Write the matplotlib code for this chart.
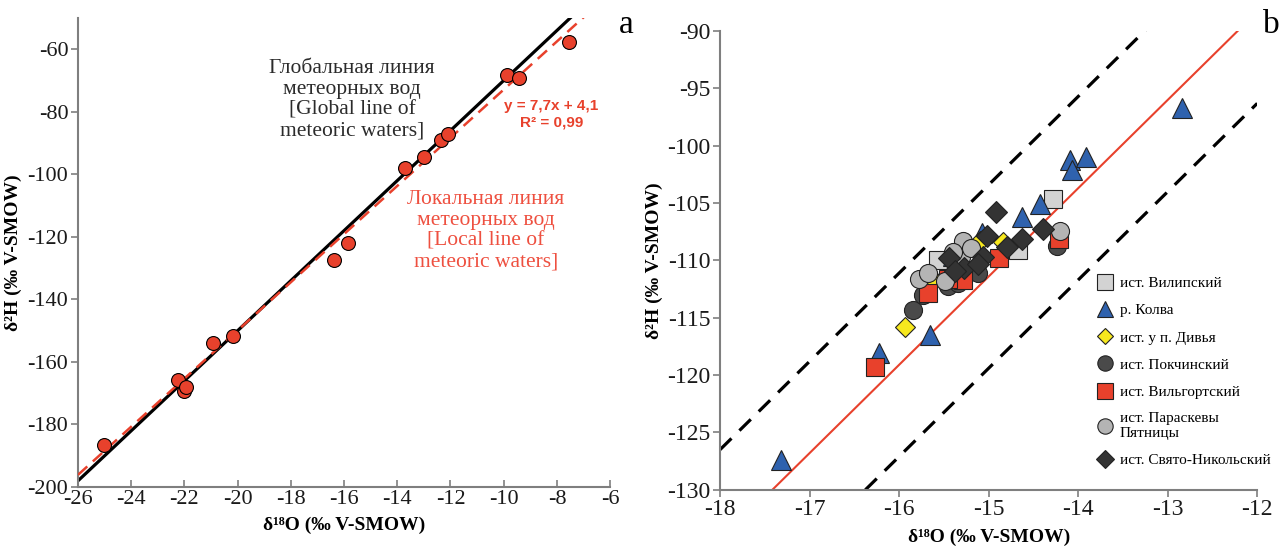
import matplotlib
matplotlib.use('Agg')
import matplotlib.pyplot as plt
import numpy as np

# --- panel a: isotope data (delta 18O, delta 2H) ---
a_o18 = [-25.03, -22.26, -22.02, -21.95, -20.92, -20.18, -16.37, -15.86,
         -13.70, -12.99, -12.36, -12.09, -9.88, -9.44, -7.54]
a_h2 = [-186.5, -165.7, -169.3, -168.0, -153.9, -151.6, -127.5, -122.1,
        -98.0, -94.4, -88.9, -87.0, -68.2, -69.2, -57.7]

# global (GMWL) and local (LMWL) meteoric water lines
gmwl_slope, gmwl_int = 8.0, 10.0
lmwl_slope, lmwl_int = 7.7, 4.1
band_offset = 8.0

# --- panel b: springs / river ---
vilip_x = [-14.28, -14.67, -15.57]
vilip_y = [-104.6, -109.1, -110.0]
kolva_x = [-17.32, -16.23, -15.65, -12.84, -14.09, -13.91, -14.07, -14.43, -14.63, -15.07, -15.40]
kolva_y = [-127.4, -118.1, -116.5, -96.7, -101.2, -101.0, -102.1, -105.1, -106.2, -107.6, -109.6]
divya_x = [-15.94, -15.10, -14.84, -15.62]
divya_y = [-115.8, -108.3, -108.4, -111.6]
pokcha_x = [-15.85, -15.73, -15.45, -15.34, -15.12, -14.24]
pokcha_y = [-114.3, -113.0, -112.2, -112.0, -111.1, -108.7]
vilg_x = [-16.27, -15.68, -15.29, -15.45, -14.88, -14.22]
vilg_y = [-119.3, -112.8, -111.7, -111.6, -109.8, -108.1]
paras_x = [-15.78, -15.68, -15.49, -15.29, -15.31, -15.20, -15.40, -14.20]
paras_y = [-111.6, -111.1, -111.8, -108.3, -109.7, -108.9, -109.3, -107.4]
nikol_x = [-14.92, -15.44, -15.28, -15.02, -15.06, -14.80, -14.63, -14.39, -15.12, -15.38]
nikol_y = [-105.8, -109.8, -110.7, -107.9, -109.7, -108.8, -108.1, -107.3, -110.3, -110.9]

legend_labels = ['ист. Вилипский', 'р. Колва', 'ист. у п. Дивья', 'ист. Покчинский',
                 'ист. Вильгортский', 'ист. Параскевы\nПятницы', 'ист. Свято-Никольский']

SERIF = ['Liberation Serif', 'DejaVu Serif']
plt.rcParams['font.family'] = SERIF
plt.rcParams['axes.unicode_minus'] = False

RED = '#e8412c'
SPINE = '#7f7f7f'

fig = plt.figure(figsize=(12.79, 5.46), dpi=100)
ax1 = fig.add_axes([0.061, 0.108, 0.416, 0.859])
ax2 = fig.add_axes([0.563, 0.103, 0.420, 0.840])


def style_axes(ax, size):
    for s in ['top', 'right']:
        ax.spines[s].set_visible(False)
    for s in ['left', 'bottom']:
        ax.spines[s].set_color(SPINE)
        ax.spines[s].set_linewidth(1.5)
    ax.tick_params(colors=SPINE, width=1.2, length=5, labelsize=size, labelcolor='#1a1a1a', pad=2)


# ---------------- panel a ----------------
xs = np.array([-26, -6])
ax1.plot(xs, gmwl_slope * xs + gmwl_int, color='black', lw=2.3, zorder=2)
ax1.plot(xs, lmwl_slope * xs + lmwl_int, color=RED, lw=1.8, dashes=(5, 3), zorder=3)
ax1.scatter(a_o18, a_h2, s=100, color=RED, edgecolor='black', linewidth=0.8, zorder=4)

ax1.set_xlim(-26, -6)
ax1.set_ylim(-200, -50)
ax1.set_xticks(np.arange(-26, -5, 2))
ax1.set_yticks(np.arange(-200, -59, 20))
style_axes(ax1, 16)
ax1.tick_params(axis='x', direction='in')

ax1.text(-15.7, -76.2, 'Глобальная линия\nметеорных вод\n[Global line of\nmeteoric waters]',
         ha='center', va='center', fontsize=15.5, color='#2b2b2b', linespacing=1.12)
ax1.text(-10.66, -118.1, 'Локальная линия\nметеорных вод\n[Local line of\nmeteoric waters]',
         ha='center', va='center', fontsize=15.5, color='#ee5040', linespacing=1.12)
ax1.text(-8.2, -80.7, 'y = 7,7x + 4,1\nR² = 0,99', ha='center', va='center',
         fontsize=11, color=RED, fontweight='bold', family=['Liberation Sans', 'DejaVu Sans'])

ax1.set_xlabel('δ¹⁸O (‰ V-SMOW)', fontsize=14, fontweight='bold', labelpad=6)
ax1.set_ylabel('δ²H (‰ V-SMOW)', fontsize=14, fontweight='bold', labelpad=4)

# ---------------- panel b ----------------
xb = np.array([-18, -12])
ax2.plot(xb, lmwl_slope * xb + lmwl_int, color=RED, lw=1.5, zorder=2)
ax2.plot(xb, lmwl_slope * xb + lmwl_int + band_offset, color='black', lw=2.3, dashes=(5, 3.5), zorder=2)
ax2.plot(xb, lmwl_slope * xb + lmwl_int - band_offset, color='black', lw=2.3, dashes=(5, 3.5), zorder=2)

mk = dict(linestyle='none', markeredgecolor='#222222', markeredgewidth=0.8, zorder=4)
ax2.plot(vilip_x, vilip_y, 's', ms=13, color='#d3d3d3', label=legend_labels[0], **mk)
ax2.plot(kolva_x, kolva_y, '^', ms=14, color='#2f62ae', label=legend_labels[1], **mk)
ax2.plot(divya_x, divya_y, 'D', ms=10, color='#f7e81e', label=legend_labels[2], **mk)
ax2.plot(pokcha_x, pokcha_y, 'o', ms=13, color='#4a4a4a', label=legend_labels[3], **mk)
ax2.plot(vilg_x, vilg_y, 's', ms=13, color='#e8412c', label=legend_labels[4], **mk)
ax2.plot(paras_x, paras_y, 'o', ms=13, color='#b4b4b4', label=legend_labels[5], **mk)
ax2.plot(nikol_x, nikol_y, 'D', ms=11, color='#333333', label=legend_labels[6], **mk)

ax2.set_xlim(-18, -12)
ax2.set_ylim(-130, -90)
ax2.set_xticks(np.arange(-18, -11, 1))
ax2.set_yticks(np.arange(-130, -89, 5))
style_axes(ax2, 17)

ax2.legend(loc='upper left', bbox_to_anchor=(0.69, 0.478), frameon=False, fontsize=11,
           handletextpad=0.4, labelspacing=0.88, handlelength=1.1, borderaxespad=0,
           markerscale=0.85)

ax2.set_xlabel('δ¹⁸O (‰ V-SMOW)', fontsize=14, fontweight='bold', labelpad=6)
ax2.set_ylabel('δ²H (‰ V-SMOW)', fontsize=14, fontweight='bold', labelpad=3)

# panel letters
fig.text(0.490, 0.955, 'a', fontsize=24, ha='center', va='center')
fig.text(0.994, 0.955, 'b', fontsize=24, ha='center', va='center')

fig.savefig('out.png', dpi=100)
